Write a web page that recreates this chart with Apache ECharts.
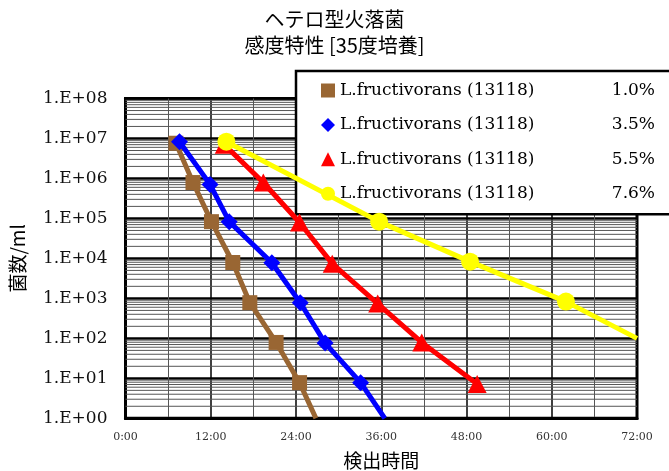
<!DOCTYPE html>
<html>
<head>
<meta charset="utf-8">
<script src="https://cdn.jsdelivr.net/npm/echarts@6/dist/echarts.min.js"></script>
<style>
  html, body { margin: 0; padding: 0; background: #fff; }
  #chart { width: 669px; height: 471px; }
</style>
</head>
<body>
<div id="chart"></div>
<script>
// Viable counts (cells/ml) of L. fructivorans 13118 against detection time (h),
// one run per ethanol concentration, incubated at 35 degrees.
const strainName = 'L.fructivorans (13118)';
const concentrations = ['1.0%', '3.5%', '5.5%', '7.6%'];

const hours10 = [7.1, 9.5, 12.1, 15.1, 17.5, 21.2, 24.5];
const counts10 = [7.6e6, 7.9e5, 8.3e4, 7.9e3, 7.8e2, 79, 7.8];

const hours35 = [7.6, 11.9, 14.6, 20.6, 24.6, 28.1, 33.1];
const counts35 = [8.3e6, 7.1e5, 8.3e4, 7.8e3, 7.8e2, 76, 7.8];

const hours55 = [13.9, 19.4, 24.5, 29.1, 35.5, 41.7, 49.5];
const counts55 = [7.0e6, 7.9e5, 7.9e4, 7.4e3, 7.4e2, 79, 7.2];

const hours76 = [14.2, 35.7, 48.5, 62.0];
const counts76 = [8.3e6, 8.3e4, 8.3e3, 8.3e2];

// where each fitted line leaves the plotting area (null = line stops at last point)
const tail10 = [26.8, 1];
const tail35 = [36.5, 1];
const tail55 = null;
const tail76 = [72, 100];

// axis ranges and ticks
const xMin = 0, xMax = 72, xStep = 12;
const yMin = 1, yMax = 1e8;

const colors = ['#996633', '#0000ff', '#ff0000', '#ffff00'];
const symbols = ['rect', 'diamond', 'triangle', 'circle'];
const symbolSizes = [15, 17, [19, 18], 18];

// log minor grid values 2..9 x 10^k
const minorValues = [];
for (let k = 0; k < 8; k++) {
  for (let m = 2; m <= 9; m++) minorValues.push(m * Math.pow(10, k));
}

function buildData(hours, counts, tail) {
  const d = hours.map((h, i) => [h, counts[i]]);
  if (tail) d.push({ value: tail, symbol: 'none' });
  return d;
}

const runs = [
  [hours10, counts10, tail10],
  [hours35, counts35, tail35],
  [hours55, counts55, tail55],
  [hours76, counts76, tail76]
];

const seriesNames = concentrations.map(c => strainName + ' ' + c);

const serifFont = 'DejaVu Serif';
const cjkFont = 'Noto Sans CJK JP';

const chart = echarts.init(document.getElementById('chart'), null, { renderer: 'canvas' });

const lineSeries = runs.map((r, i) => ({
  name: seriesNames[i],
  type: 'line',
  data: buildData(r[0], r[1], r[2]),
  symbol: symbols[i],
  symbolSize: symbolSizes[i],
  showAllSymbol: true,
  clip: true,
  color: colors[i],
  lineStyle: { color: colors[i], width: 5 },
  itemStyle: { color: colors[i], borderWidth: 0 },
  z: 3 + i,
  animation: false
}));

chart.setOption({
  animation: false,
  backgroundColor: '#fff',
  title: {
    text: 'ヘテロ型火落菌\n感度特性 [35度培養]',
    left: 'center',
    top: 6,
    padding: 0,
    textStyle: {
      fontFamily: cjkFont,
      fontSize: 20,
      lineHeight: 26,
      fontWeight: 'normal',
      color: '#000'
    }
  },
  grid: {
    left: 125.5,
    right: 32,
    top: 98.5,
    bottom: 52.7,
    outerBoundsMode: 'none',
    containLabel: false,
    show: true,
    borderColor: '#000',
    borderWidth: 3,
    backgroundColor: 'transparent'
  },
  legend: {
    orient: 'vertical',
    left: 296,
    top: 71,
    padding: [11, 40, 12, 25],
    itemGap: 17.4,
    itemWidth: 14,
    itemHeight: 14,
    backgroundColor: '#fff',
    borderColor: '#000',
    borderWidth: 2.5,
    borderRadius: 0,
    selectedMode: false,
    itemStyle: { borderWidth: 0 },
    data: seriesNames.map((n, i) => ({ name: n, icon: symbols[i] })),
    formatter: name => {
      const i = seriesNames.indexOf(name);
      return '{n|' + strainName + '}{p|' + concentrations[i] + '}';
    },
    textStyle: {
      rich: {
        n: { fontFamily: serifFont, fontSize: 17, lineHeight: 20, width: 262, color: '#000' },
        p: { fontFamily: serifFont, fontSize: 17, lineHeight: 20, width: 53, align: 'right', color: '#000' }
      }
    }
  },
  xAxis: {
    type: 'value',
    min: xMin,
    max: xMax,
    interval: xStep,
    name: '検出時間',
    nameLocation: 'middle',
    nameGap: 33,
    nameTextStyle: { fontFamily: cjkFont, fontSize: 19, color: '#000' },
    axisLine: { show: true, lineStyle: { color: '#000', width: 3 } },
    axisTick: { show: false },
    axisLabel: {
      margin: 13,
      fontFamily: serifFont,
      fontSize: 11,
      color: '#333',
      formatter: v => v + ':00'
    },
    splitLine: { show: true, lineStyle: { color: '#000', width: 1.5 } },
    minorTick: { show: false, splitNumber: 2 },
    minorSplitLine: { show: true, lineStyle: { color: '#555', width: 1 } }
  },
  yAxis: {
    type: 'log',
    logBase: 10,
    min: yMin,
    max: yMax,
    splitNumber: 8,
    name: '菌数/ml',
    nameLocation: 'middle',
    nameGap: 98,
    nameRotate: 90,
    nameTextStyle: { fontFamily: cjkFont, fontSize: 19, color: '#000' },
    axisLine: { show: true, lineStyle: { color: '#000', width: 3 } },
    axisTick: { show: false },
    axisLabel: {
      margin: 18,
      fontFamily: serifFont,
      fontSize: 17,
      color: '#111',
      formatter: v => '1.E+' + String(Math.round(Math.log10(v))).padStart(2, '0')
    },
    splitLine: { show: true, lineStyle: { color: '#000', width: 2.5 } }
  },
  series: [
    {
      type: 'custom',
      silent: true,
      z: 1,
      clip: true,
      encode: { x: 0, y: 1 },
      data: minorValues.map(v => [xMin, v]),
      renderItem: (params, api) => {
        const v = api.value(1);
        const p1 = api.coord([xMin, v]);
        const p2 = api.coord([xMax, v]);
        return {
          type: 'line',
          shape: { x1: p1[0], y1: p1[1], x2: p2[0], y2: p2[1] },
          style: { stroke: '#555', lineWidth: 1 }
        };
      }
    }
  ].concat(lineSeries)
});
</script>
</body>
</html>
